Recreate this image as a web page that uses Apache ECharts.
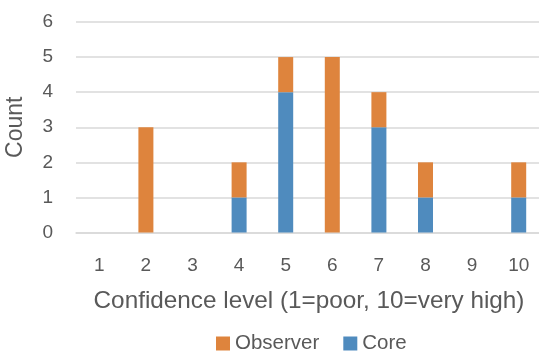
<!DOCTYPE html>
<html>
<head>
<meta charset="utf-8">
<script src="https://cdn.jsdelivr.net/npm/echarts@6/dist/echarts.min.js"></script>
<style>
  html, body { margin: 0; padding: 0; background: #fff; }
  #chart { width: 539px; height: 354px; }
</style>
</head>
<body>
<div id="chart"></div>
<script>
// Confidence levels on the x axis
const categories = ['1', '2', '3', '4', '5', '6', '7', '8', '9', '10'];
// Respondent counts per confidence level
const coreCounts = [0, 0, 0, 1, 4, 0, 3, 1, 0, 1];
const observerCounts = [0, 3, 0, 1, 1, 5, 1, 1, 0, 1];
const yTicks = [0, 1, 2, 3, 4, 5, 6];

const textColor = '#595959';
const fontFamily = 'Liberation Sans, Arial, sans-serif';

const chart = echarts.init(document.getElementById('chart'), null, { renderer: 'canvas' });
chart.setOption({
  animation: false,
  textStyle: { fontFamily: fontFamily },
  grid: {
    left: 76, top: 22, width: 466, bottom: 121.5,
    containLabel: false,
    outerBoundsMode: 'none'
  },
  legend: {
    data: ['Observer', 'Core'],
    top: 333,
    left: 216,
    itemWidth: 14,
    itemHeight: 14,
    itemGap: 24,
    padding: 0,
    icon: 'rect',
    textStyle: { color: textColor, fontSize: 20.5, fontFamily: fontFamily, padding: [0, 0, 0, 0] }
  },
  xAxis: {
    type: 'category',
    data: categories,
    name: 'Confidence level (1=poor, 10=very high)',
    nameLocation: 'middle',
    nameGap: 57,
    nameTextStyle: { color: textColor, fontSize: 24.3, fontFamily: fontFamily },
    axisLine: { lineStyle: { color: '#d9d9d9', width: 1.5 } },
    axisTick: { show: false },
    axisLabel: { color: textColor, fontSize: 19, margin: 24, fontFamily: fontFamily }
  },
  yAxis: {
    type: 'value',
    min: yTicks[0],
    max: yTicks[yTicks.length - 1],
    interval: 1,
    name: 'Count',
    nameLocation: 'middle',
    nameGap: 49,
    nameTextStyle: { color: textColor, fontSize: 23, fontFamily: fontFamily },
    axisLine: { show: false },
    axisTick: { show: false },
    splitLine: { lineStyle: { color: '#d9d9d9', width: 1.5 } },
    axisLabel: { color: textColor, fontSize: 19, margin: 23, fontFamily: fontFamily }
  },
  series: [
    {
      name: 'Core',
      type: 'bar',
      stack: 'total',
      data: coreCounts,
      barWidth: 15,
      itemStyle: { color: '#4F8BBE' }
    },
    {
      name: 'Observer',
      type: 'bar',
      stack: 'total',
      data: observerCounts,
      barWidth: 15,
      itemStyle: { color: '#DE843D' }
    }
  ]
});
</script>
</body>
</html>
